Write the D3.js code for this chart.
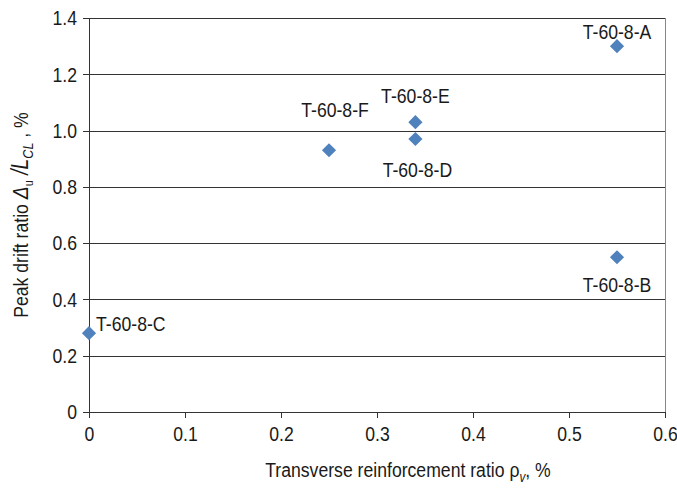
<!DOCTYPE html>
<html lang="en">
<head>
<meta charset="utf-8">
<title>Peak drift ratio</title>
<style>
  body { margin: 0; background: white; }
  text { font-family: "Liberation Sans Narrow", "Arial Narrow", "Liberation Sans", sans-serif; fill: #1a1a1a; }
  .axis path, .axis line { stroke: #333; stroke-width: 1px; shape-rendering: crispEdges; }
  .axis text { font-size: 21px; }
  .grid line { stroke: #333; stroke-width: 1px; shape-rendering: crispEdges; }
  .grid path { stroke: none; }
</style>
</head>
<body>
<script src="https://d3js.org/d3.v7.min.js"></script>
<svg width="677" height="488"></svg>
<script>
// specimen data
var names = ["T-60-8-A", "T-60-8-B", "T-60-8-C", "T-60-8-D", "T-60-8-E", "T-60-8-F"];
var rhoV = [0.55, 0.55, 0, 0.34, 0.34, 0.25];
var drift = [1.30, 0.55, 0.28, 0.97, 1.03, 0.93];
var xTicks = [0, 0.1, 0.2, 0.3, 0.4, 0.5, 0.6];
var yTicks = [0, 0.2, 0.4, 0.6, 0.8, 1.0, 1.2, 1.4];

// where each label sits relative to its marker
var labelPlace = {
  "T-60-8-A": { dx: 0, dy: -7, anchor: "middle" },
  "T-60-8-B": { dx: 0, dy: 35, anchor: "middle" },
  "T-60-8-C": { dx: 7, dy: -2, anchor: "start" },
  "T-60-8-D": { dx: 2, dy: 38, anchor: "middle" },
  "T-60-8-E": { dx: 0, dy: -19, anchor: "middle" },
  "T-60-8-F": { dx: 6, dy: -33, anchor: "middle" }
};

// no narrow font installed, so squeeze text sideways
var squeeze = 0.84;

var svg = d3.select("svg"),
    margin = { top: 18, right: 12, bottom: 76, left: 89 },
    width = +svg.attr("width") - margin.left - margin.right,
    height = +svg.attr("height") - margin.top - margin.bottom;

var x = d3.scaleLinear().domain([0, 0.6]).range([0, width]);
var y = d3.scaleLinear().domain([0, 1.4]).range([height, 0]);

var g = svg.append("g")
    .attr("transform", "translate(" + margin.left + "," + margin.top + ")");

// horizontal gridlines
g.append("g")
    .attr("class", "grid")
    .call(d3.axisLeft(y).tickValues(yTicks).tickSize(-width).tickFormat(""));

// right border of plot area
g.append("line")
    .attr("x1", width).attr("x2", width)
    .attr("y1", 0).attr("y2", height)
    .attr("stroke", "#888")
    .attr("shape-rendering", "crispEdges");

var fmt = function(d) { return d === 0 ? "0" : d3.format(".1f")(d); };

// axes
var xa = g.append("g")
    .attr("class", "axis")
    .attr("transform", "translate(0," + height + ")")
    .call(d3.axisBottom(x).tickValues(xTicks).tickSizeOuter(0).tickSize(6).tickPadding(8).tickFormat(fmt));
xa.selectAll(".tick text").attr("transform", "scale(" + squeeze + ",1)");

var ya = g.append("g")
    .attr("class", "axis")
    .call(d3.axisLeft(y).tickValues(yTicks).tickSizeOuter(0).tickSize(6).tickPadding(0).tickFormat(fmt));
ya.selectAll(".tick text")
    .attr("x", 0)
    .attr("transform", "translate(-12,0) scale(" + squeeze + ",1)");

// x axis title
var xt = svg.append("text")
    .attr("transform", "translate(408,477) scale(" + squeeze + ",1)")
    .attr("text-anchor", "middle")
    .attr("font-size", "21px");
xt.append("tspan").text("Transverse reinforcement ratio \u03c1");
xt.append("tspan").attr("font-size", "14px").attr("font-style", "italic").attr("dy", 5).text("v");
xt.append("tspan").attr("dy", -5).text(", %");

// y axis title
var yt = svg.append("text")
    .attr("transform", "translate(28," + (margin.top + height / 2) + ") rotate(-90) scale(" + squeeze + ",1)")
    .attr("text-anchor", "middle")
    .attr("font-size", "21px");
yt.append("tspan").text("Peak drift ratio  ");
yt.append("tspan").attr("font-style", "italic").attr("font-size", "23px").text("\u0394");
yt.append("tspan").attr("font-size", "13px").attr("dy", 5).text("u");
yt.append("tspan").attr("dy", -5).attr("font-style", "italic").attr("font-size", "23px").text(" /L");
yt.append("tspan").attr("font-size", "15px").attr("font-style", "italic").attr("dy", 5).text("CL");
yt.append("tspan").attr("dy", -5).text("   , %");

// points
var pts = names.map(function(n, i) { return { name: n, x: rhoV[i], y: drift[i] }; });

g.selectAll(".dot")
    .data(pts)
    .enter().append("path")
    .attr("class", "dot")
    .attr("d", d3.symbol().type(d3.symbolDiamond2).size(128))
    .attr("transform", function(d) { return "translate(" + x(d.x) + "," + y(d.y) + ")"; })
    .attr("fill", "#4F81BD");

g.selectAll(".lbl")
    .data(pts)
    .enter().append("text")
    .attr("class", "lbl")
    .attr("transform", function(d) {
      var p = labelPlace[d.name];
      return "translate(" + (x(d.x) + p.dx) + "," + (y(d.y) + p.dy) + ") scale(" + squeeze + ",1)";
    })
    .attr("text-anchor", function(d) { return labelPlace[d.name].anchor; })
    .attr("font-size", "21px")
    .text(function(d) { return d.name; });
</script>
</body>
</html>
